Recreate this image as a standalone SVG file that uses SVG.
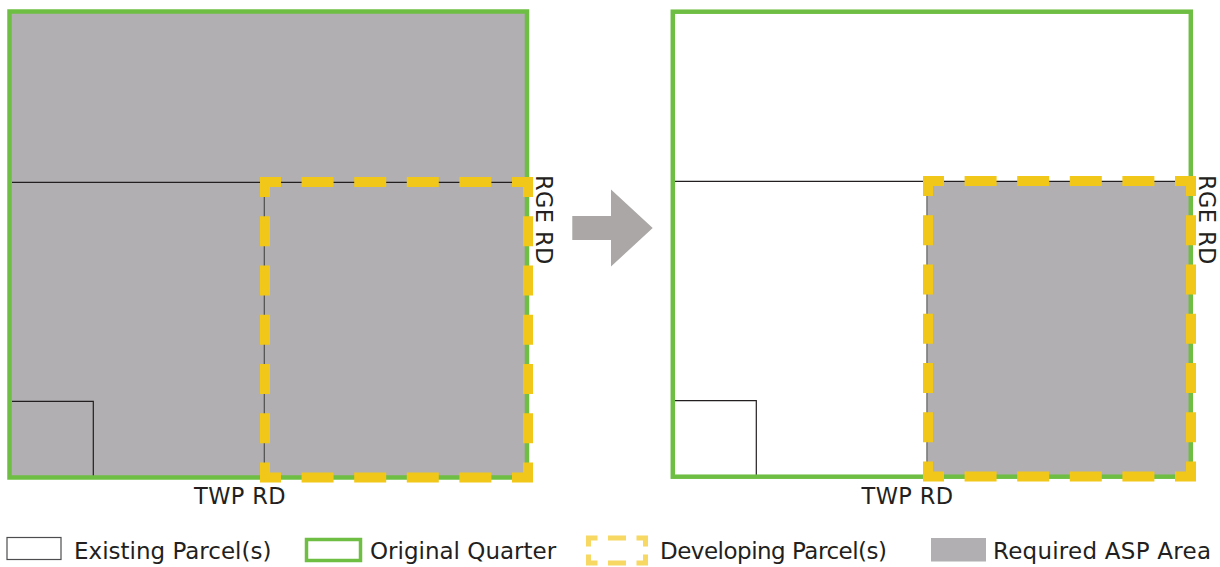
<svg xmlns="http://www.w3.org/2000/svg" width="1220" height="567" viewBox="0 0 1220 567">
<style>
.asp{fill:#b1afb1;stroke:none}
.quarter{fill:none;stroke:#6fbe44;stroke-width:4.5}
.line{fill:none;stroke:#231f20;stroke-width:1.2}
.vline{fill:none;stroke:#4d4d4f;stroke-width:1.2}
.dev{fill:none;stroke:#f1c719;stroke-width:10;stroke-linejoin:miter;stroke-dasharray:31 20.6 32 20.6 32 20.6 32 20.6 32 20.6 31 19.25 30 19.25 30 19.25 30 19.25 30 19.25 30 19.25 31 20.6 32 20.6 32 20.6 32 20.6 32 20.6 31 19.25 30 19.25 30 19.25 30 19.25 30 19.25 30 19.25}
.lbl{font-family:"DejaVu Sans","Verdana",sans-serif;font-size:23px;fill:#231f20}
.road{font-family:"DejaVu Sans","Verdana",sans-serif;font-size:22.5px;fill:#231f20;letter-spacing:0.4px}
</style>
<rect width="1220" height="567" fill="#ffffff"/>
<g id="panel-before">
  <rect class="asp" x="9.5" y="11.5" width="517.5" height="466"/>
  <line class="line" x1="12" y1="182.3" x2="527" y2="182.3"/>
  <line class="vline" x1="264.3" y1="182.3" x2="264.3" y2="477"/>
  <path class="line" d="M12,401.3 H93.3 V477"/>
  <rect class="quarter" x="9.5" y="11.5" width="517.5" height="466"/>
  <path class="dev" d="M265,197 L265,182 L528,182 L528,477.5 L265,477.5 Z"/>
  <text class="road" transform="translate(535.5,175) rotate(90)">RGE RD</text>
  <text class="road" x="194" y="504">TWP RD</text>
</g>
<g id="arrow">
  <polygon points="572.3,216 611,216 611,189.5 652.7,228 611,266.5 611,240 572.3,240" fill="#aaa7a6"/>
</g>
<g id="panel-after">
  <rect class="asp" x="927.5" y="181" width="263.5" height="295.5"/>
  <line class="line" x1="675" y1="181.3" x2="1190" y2="181.3"/>
  <line class="vline" x1="927" y1="181.3" x2="927" y2="476"/>
  <path class="line" d="M675,400.7 H756.3 V476"/>
  <rect class="quarter" x="672.8" y="11.7" width="518" height="465"/>
  <path class="dev" d="M928,196 L928,181 L1191,181 L1191,476.5 L928,476.5 Z"/>
  <text class="road" transform="translate(1198.5,175) rotate(90)">RGE RD</text>
  <text class="road" x="861.5" y="504">TWP RD</text>
</g>
<g id="legend">
  <g id="legend-existing">
    <rect x="7" y="537.5" width="54" height="22" fill="#ffffff" stroke="#4d4d4f" stroke-width="1.2"/>
    <text class="lbl" x="74" y="559">Existing Parcel(s)</text>
  </g>
  <g id="legend-quarter">
    <rect x="306.5" y="539.5" width="54" height="21" fill="#ffffff" stroke="#6fbe44" stroke-width="3.5"/>
    <text class="lbl" x="370" y="559">Original Quarter</text>
  </g>
  <g id="legend-developing">
    <path d="M588.5,546.5 L588.5,538 H645.5 V563 H588.5 Z" fill="none" stroke="#f6d862" stroke-width="5" stroke-dasharray="17.5 10.5 18 10.5 17.5 8 17.5 10.5 18 10.5 17.5 8"/>
    <text class="lbl" x="660" y="559" textLength="227">Developing Parcel(s)</text>
  </g>
  <g id="legend-asp">
    <rect x="931" y="538" width="55" height="23.5" fill="#b1afb1"/>
    <text class="lbl" x="993" y="559" textLength="218">Required ASP Area</text>
  </g>
</g>
</svg>
